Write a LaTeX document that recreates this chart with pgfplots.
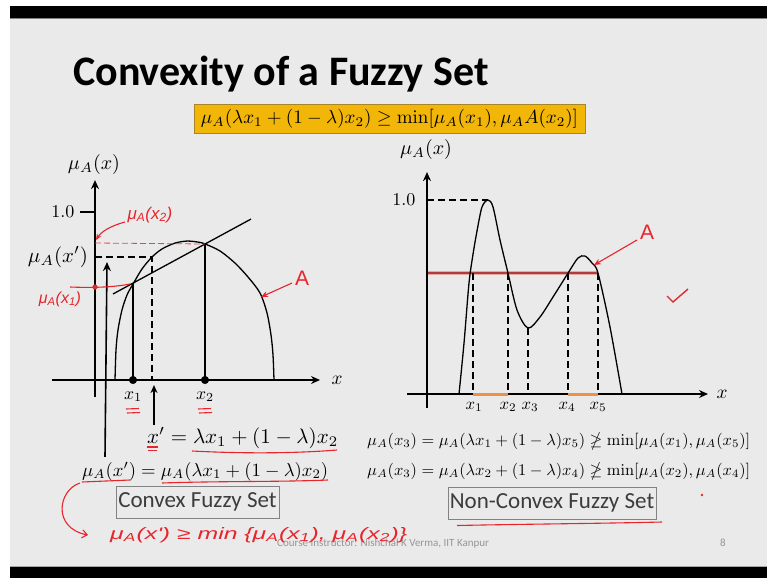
\documentclass[border=0pt]{standalone}
\usepackage{amssymb}
\usepackage{graphicx}
\usepackage{pgfplots}
\pgfplotsset{compat=1.18}
\usepackage[no-math]{fontspec}
\setmainfont{Carlito}
\newfontfamily\hand{Liberation Sans}
\usetikzlibrary{arrows.meta}

\definecolor{slidebg}{RGB}{234,234,234}
\definecolor{handred}{RGB}{232,36,44}
\definecolor{gold}{RGB}{242,182,8}
\definecolor{goldedge}{RGB}{170,132,40}
\definecolor{levelred}{RGB}{172,62,62}
\definecolor{levelglow}{RGB}{232,168,168}
\definecolor{supp}{RGB}{236,146,66}
\definecolor{boxedge}{RGB}{130,130,130}
\definecolor{boxtext}{RGB}{60,60,60}
\definecolor{footgray}{RGB}{150,150,150}

\tikzset{
  axisline/.style={black, line width=1.4pt, -{Stealth[length=9pt,width=8pt]}},
  curve/.style={black, line width=1.3pt},
  guide/.style={black, line width=1.4pt, dash pattern=on 7pt off 4pt},
  note/.style={handred, line width=1.1pt},
}
\newcommand{\hs}[1]{\textsubscript{#1}}
\newcommand{\mlab}[2]{\resizebox{#1}{!}{$#2$}}

\begin{document}
\begin{tikzpicture}[x=1pt,y=-1pt]
\useasboundingbox (0,0) rectangle (767,578);
% slide frame
\fill[white] (0,0) rectangle (767,578);
\fill[slidebg] (10,18) rectangle (767,567);
\fill[black] (10,6) rectangle (767,18);
\fill[black] (10,567) rectangle (767,578);
\draw[gray, line width=0.8pt] (10,18.6) -- (767,18.6);
\draw[gray!70, line width=0.6pt] (10,566.6) -- (767,566.6);

% title and definition
\node[anchor=base west, inner sep=0, font=\fontsize{42}{48}\selectfont\bfseries]
  at (73,85) {Convexity of a Fuzzy Set};
\node[draw=goldedge, fill=gold, line width=0.8pt, minimum width=391pt,
      minimum height=29pt, inner sep=0] at (389.5,118.5)
  {\resizebox{377pt}{!}{$\mu_A(\lambda x_1+(1-\lambda)x_2)\geq\min[\mu_A(x_1),\mu_A A(x_2)]$}};

% ---------------- convex membership function ----------------
\begin{axis}[
  at={(50pt,-480.8pt)}, anchor=south west,
  scale only axis, width=290pt, height=310.8pt,
  xmin=-45, xmax=245, ymin=-0.6, ymax=1.25,
  hide axis, clip=false,
]
\addplot[axisline] coordinates {(-43,0) (225,0)};
\addplot[axisline] coordinates {(0,-0.101) (0,1.19)};
\addplot[black, line width=1.4pt] coordinates {(-15,1) (0,1)};
\node[anchor=east] at (axis cs:-17,1) {\mlab{23pt}{1.0}};
\node at (axis cs:-1,1.28) {\mlab{52pt}{\mu_A(x)}};
\node at (axis cs:-37,0.732) {\mlab{60pt}{\mu_A(x')}};
\node at (axis cs:242,0) {\mlab{11pt}{x}};
% fuzzy set A
\addplot[curve, smooth] coordinates {
  (20,0) (21,0.179) (23,0.298) (27,0.417) (32,0.506) (38,0.571)
  (47,0.661) (57,0.732) (67,0.780) (80,0.815) (92,0.827) (103,0.821)
  (110,0.810) (125,0.768) (140,0.696) (153,0.613) (165,0.518)
  (172,0.399) (176,0.268) (178,0.149) (179,0)};
% chord between the two points
\addplot[curve] coordinates {(18,0.512) (156,0.958)};
\addplot[curve] coordinates {(38,0) (38,0.571)};
\addplot[curve] coordinates {(110,0) (110,0.810)};
\addplot[guide] coordinates {(0,0.732) (57,0.732) (57,0)};
\addplot[only marks, mark=*, mark size=3.8pt, black] coordinates {(38,0) (110,0)};
% pointers to x' and mu_A(x')
\addplot[black, line width=1.4pt, -{Stealth[length=8pt,width=7pt]}] coordinates {(59,-0.268) (59,-0.03)};
\addplot[black, line width=1.6pt, -{Stealth[length=9pt,width=8pt]}] coordinates {(10,-0.458) (12,0.702)};
\node at (axis cs:38,-0.1) {\mlab{18pt}{x_1}};
\node at (axis cs:110,-0.1) {\mlab{18pt}{x_2}};
\end{axis}

% ---------------- non-convex membership function ----------------
\begin{axis}[
  at={(402pt,-452.2pt)}, anchor=south west,
  scale only axis, width=325pt, height=310.4pt,
  xmin=-25, xmax=300, ymin=-0.3, ymax=1.3,
  hide axis, clip=false,
]
\addplot[levelglow, line width=4pt] coordinates {(0,0.623) (171,0.623)};
\addplot[levelred, line width=1.5pt] coordinates {(0,0.623) (171,0.623)};
\addplot[guide] coordinates {(0,1) (61,1)};
\addplot[guide] coordinates {(46,0.623) (46,0)};
\addplot[guide] coordinates {(81,0.623) (81,0)};
\addplot[guide] coordinates {(101,0.340) (101,0)};
\addplot[guide] coordinates {(141,0.623) (141,0)};
\addplot[guide] coordinates {(171,0.623) (171,0)};
\addplot[axisline] coordinates {(-20,0) (281,0)};
\addplot[axisline] coordinates {(0,-0.072) (0,1.144)};
\addplot[supp, line width=3pt] coordinates {(46,0) (81,0)};
\addplot[supp, line width=3pt] coordinates {(141,0) (171,0)};
\addplot[curve, smooth] coordinates {
  (32,0) (37,0.262) (42,0.572) (46,0.720) (50,0.84) (55,0.964) (61,1.0)
  (66,0.964) (73,0.794) (81,0.623) (90,0.433) (101,0.340) (113,0.397)
  (126,0.50) (141,0.623) (151,0.701) (158,0.711) (165,0.675)
  (171,0.623) (183,0.345) (195,0)};
\node[anchor=east] at (axis cs:-8,1) {\mlab{23pt}{1.0}};
\node at (axis cs:-1,1.258) {\mlab{52pt}{\mu_A(x)}};
\node at (axis cs:295,0) {\mlab{11pt}{x}};
\node at (axis cs:47,-0.067) {\mlab{17pt}{x_1}};
\node at (axis cs:81,-0.067) {\mlab{17pt}{x_2}};
\node at (axis cs:103,-0.067) {\mlab{17pt}{x_3}};
\node at (axis cs:140,-0.067) {\mlab{17pt}{x_4}};
\node at (axis cs:171,-0.067) {\mlab{17pt}{x_5}};
\end{axis}

% ---------------- formulas under the plots ----------------
\node[anchor=base west, inner sep=0] at (147,443)
  {\resizebox{191pt}{!}{$x' = \lambda x_1 + (1-\lambda)x_2$}};
\node[anchor=base west, inner sep=0] at (82,476)
  {\resizebox{246pt}{!}{$\mu_A(x') = \mu_A(\lambda x_1 + (1-\lambda)x_2)$}};
\node[anchor=base west, inner sep=0] at (367,445)
  {\resizebox{383pt}{!}{$\mu_A(x_3)=\mu_A(\lambda x_1+(1-\lambda)x_5)\ngeq\min[\mu_A(x_1),\mu_A(x_5)]$}};
\node[anchor=base west, inner sep=0] at (367,475)
  {\resizebox{383pt}{!}{$\mu_A(x_3)=\mu_A(\lambda x_2+(1-\lambda)x_4)\ngeq\min[\mu_A(x_2),\mu_A(x_4)]$}};

\node[draw=boxedge, line width=0.8pt, minimum width=163pt, minimum height=32pt,
      inner sep=0, text=boxtext, font=\fontsize{23}{27}\selectfont] at (197.5,502) {Convex Fuzzy Set};
\node[draw=boxedge, line width=0.8pt, minimum width=208pt, minimum height=32pt,
      inner sep=0, text=boxtext, font=\fontsize{23}{27}\selectfont] at (552,503) {Non-Convex Fuzzy Set};

% footer
\node[anchor=base west, inner sep=0, text=footgray, font=\fontsize{11}{13}\selectfont]
  at (277,546.5) {Course Instructor: Nishchal K Verma, IIT Kanpur};
\node[anchor=base, inner sep=0, text=footgray, font=\fontsize{11}{13}\selectfont] at (723,546.5) {8};

% ---------------- red pen notes ----------------
\draw[handred!85, line width=0.8pt, dash pattern=on 6pt off 3pt] (95,243) -- (205,244);
\node[text=handred, font=\hand\itshape\fontsize{17}{19}\selectfont] at (150,215) {μ\hs{A}(x\hs{2})};
\draw[note, -{Stealth[length=6pt,width=5pt]}] (125,222) .. controls (110,226) and (101,232) .. (96,240);
\draw[note] (70,287) .. controls (95,288) and (115,287) .. (130,284);
\fill[handred] (95,287) circle (2.6);
\node[text=handred, font=\hand\itshape\fontsize{16}{18}\selectfont] at (60,299) {μ\hs{A}(x\hs{1})};
\node[text=handred, font=\hand\fontsize{21}{24}\selectfont] at (302,278) {A};
\draw[note, -{Stealth[length=7pt,width=6pt]}] (292,283) -- (261,297);
\foreach \cx in {133,205} {
  \draw[note] (\cx-7,409) -- (\cx+6,408.5);
  \draw[note] (\cx-6,413) -- (\cx+7,412.5);
}
\node[text=handred, font=\hand\fontsize{21}{24}\selectfont] at (647,232) {A};
\draw[note, -{Stealth[length=7pt,width=6pt]}] (637,240) -- (594,265);
\draw[note, line width=1.4pt] (667,296) -- (673,302) -- (688,289);
\fill[handred] (702,495) circle (1.3);

\draw[note] (147,447) -- (158,447);
\draw[note] (148,450.5) -- (157,450.5);
\draw[note] (192,451) .. controls (250,454) and (300,453) .. (337,450);
\draw[note] (82,482) -- (130,480);
\draw[note] (162,483) .. controls (220,481) and (280,482) .. (328,480);
\draw[note] (457,525.5) .. controls (530,524) and (600,523.5) .. (662,522);
\draw[note, -{Straight Barb[length=5pt,width=8pt]}] (80,483) .. controls (58,490) and (52,528) .. (88,535);
\node[anchor=west, inner sep=0, text=handred] at (110,535)
  {\resizebox{297pt}{12pt}{\hand\itshape μ\hs{A}(x') ≥ min \{μ\hs{A}(x\hs{1}), μ\hs{A}(x\hs{2})\}}};
\end{tikzpicture}
\end{document}
